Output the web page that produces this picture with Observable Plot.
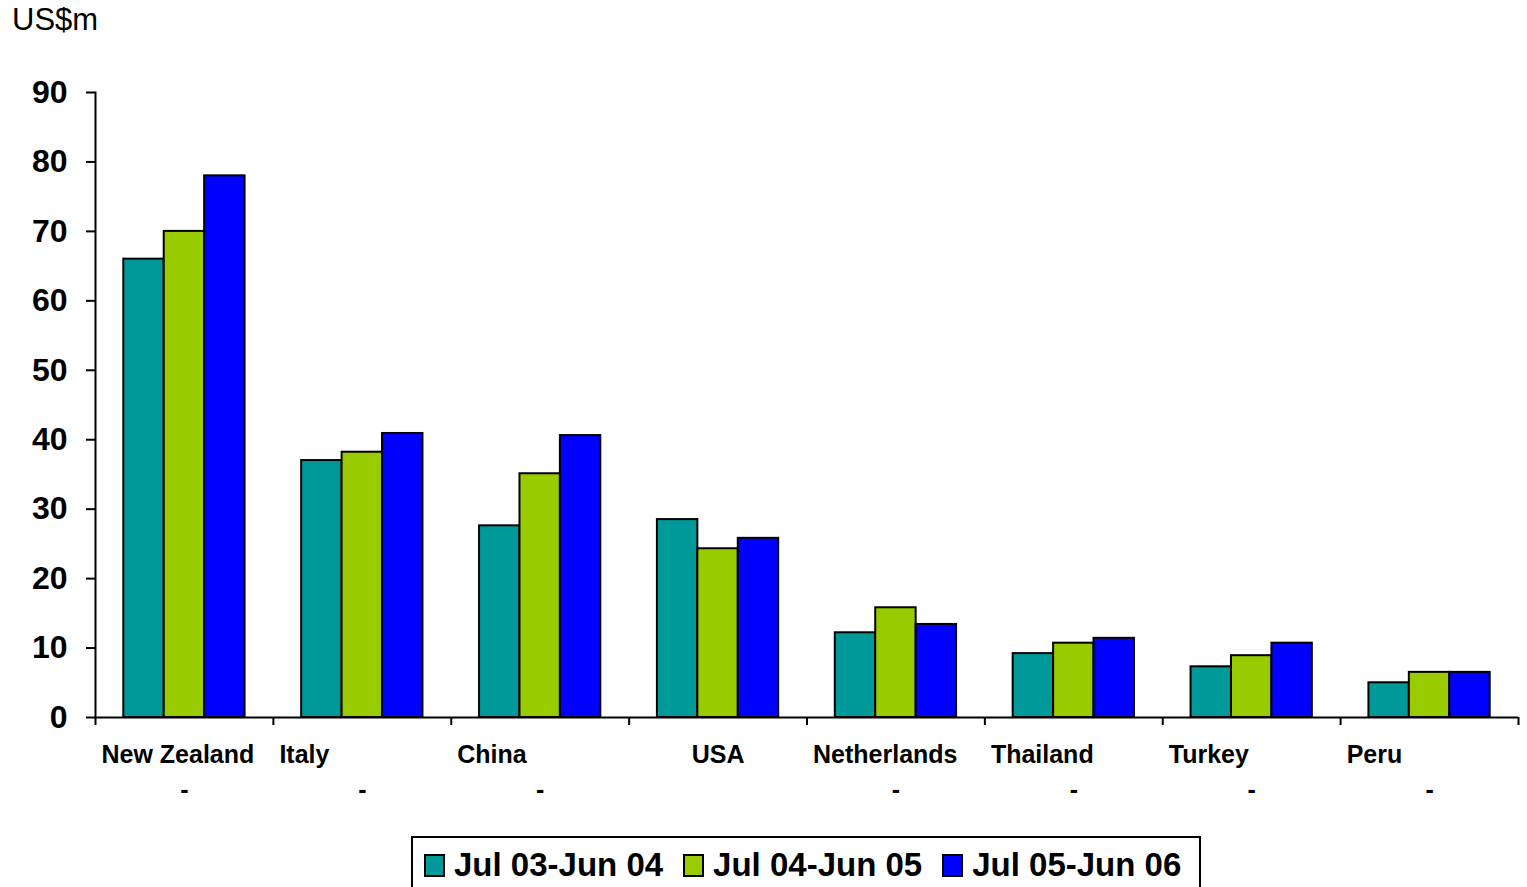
<!DOCTYPE html>
<html>
<head>
<meta charset="utf-8">
<script src="https://cdn.jsdelivr.net/npm/d3@7"></script>
<script src="https://cdn.jsdelivr.net/npm/@observablehq/plot@0.6"></script>
<style>
  html, body { margin: 0; padding: 0; background: #fff; }
  #wrap { position: relative; width: 1527px; height: 887px; overflow: hidden; font-family: "Liberation Sans", Arial, sans-serif; }
  #unit { position: absolute; left: 12px; top: 2px; font-size: 31px; color: #000; }
  #chart { position: absolute; left: 0; top: 0; }
  #legend { position: absolute; left: 411px; top: 836px; width: 790px; height: 60px; border: 2px solid #000; box-sizing: border-box; display: flex; align-items: flex-start; padding-top: 9px; padding-left: 11px; white-space: nowrap; }
  .item { display: flex; align-items: center; font-weight: bold; font-size: 33px; margin-right: 20px; line-height: 36px; flex: none; }
  .sw { width: 17px; height: 19px; border: 2px solid #000; margin-right: 9px; flex: none; }
</style>
</head>
<body>
<div id="wrap">
  <div id="chart"></div>
  <div id="unit">US$m</div>
  <div id="legend"></div>
</div>
<script>
const countries = ["New Zealand", "Italy", "China", "USA", "Netherlands", "Thailand", "Turkey", "Peru"];
const hasDash = [true, true, true, false, true, true, true, true];
const series = ["Jul 03-Jun 04", "Jul 04-Jun 05", "Jul 05-Jun 06"];
const colors = ["#009999", "#99CC00", "#0000FF"];
const values03 = [66, 37, 27.6, 28.5, 12.2, 9.2, 7.3, 5.0];
const values04 = [70, 38.2, 35.1, 24.3, 15.8, 10.7, 8.9, 6.5];
const values05 = [78, 40.9, 40.6, 25.8, 13.4, 11.4, 10.7, 6.5];
const yTicks = [0, 10, 20, 30, 40, 50, 60, 70, 80, 90];

const allValues = [values03, values04, values05];
const data = [];
countries.forEach((c, i) => {
  series.forEach((s, j) => data.push({country: c, series: s, value: allValues[j][i]}));
});
const labelData = countries.map((c, i) => ({country: c, dash: hasDash[i]}));

const W = 1527, H = 830, ML = 95, MR = 9, MT = 92, MB = 113;
const facetW = (W - ML - MR) / countries.length;

const chart = Plot.plot({
  width: W,
  height: H,
  marginLeft: ML,
  marginRight: MR,
  marginTop: MT,
  marginBottom: MB,
  style: {fontFamily: "'Liberation Sans', Arial, sans-serif", background: "#fff", color: "#000", overflow: "visible"},
  fx: {domain: countries, padding: 0, round: false, axis: null, label: null},
  x: {domain: series, paddingInner: 0, paddingOuter: 0.7, round: false, axis: null, label: null},
  y: {domain: [0, 90], axis: null, label: null},
  color: {domain: series, range: colors},
  marks: [
    Plot.barY(data, {fx: "country", x: "series", y: "value", fill: "series", stroke: "#000", strokeWidth: 2}),
    Plot.ruleY([0], {stroke: "#000", strokeWidth: 2}),
    Plot.frame({anchor: "left", facetAnchor: "left", stroke: "#000", strokeWidth: 2}),
    Plot.axisY({ticks: yTicks, label: null, tickSize: 9, tickPadding: 19, fontSize: 32, fontWeight: "bold", strokeWidth: 2, facetAnchor: "left"}),
    Plot.axisFx({anchor: "bottom", label: null, tickSize: 8, tickFormat: () => "", dx: -facetW / 2, strokeWidth: 2}),
    Plot.axisFx({anchor: "bottom", label: null, ticks: [countries[countries.length - 1]], tickSize: 8, tickFormat: () => "", dx: facetW / 2, strokeWidth: 2}),
    Plot.text(labelData.filter(d => d.dash), {fx: "country", text: "country", frameAnchor: "bottom-left", textAnchor: "start", dx: 6, dy: 45, fontSize: 25, fontWeight: "bold", letterSpacing: 0.3}),
    Plot.text(labelData.filter(d => !d.dash), {fx: "country", text: "country", frameAnchor: "bottom", dy: 45, fontSize: 25, fontWeight: "bold", letterSpacing: 0.3}),
    Plot.text(labelData.filter(d => d.dash), {fx: "country", text: () => "-", frameAnchor: "bottom", dy: 80, fontSize: 25, fontWeight: "bold"})
  ]
});
document.getElementById("chart").appendChild(chart);

const legend = document.getElementById("legend");
series.forEach((s, j) => {
  const item = document.createElement("div");
  item.className = "item";
  const sw = document.createElement("div");
  sw.className = "sw";
  sw.style.background = colors[j];
  item.appendChild(sw);
  item.appendChild(document.createTextNode(s));
  legend.appendChild(item);
});
</script>
</body>
</html>
